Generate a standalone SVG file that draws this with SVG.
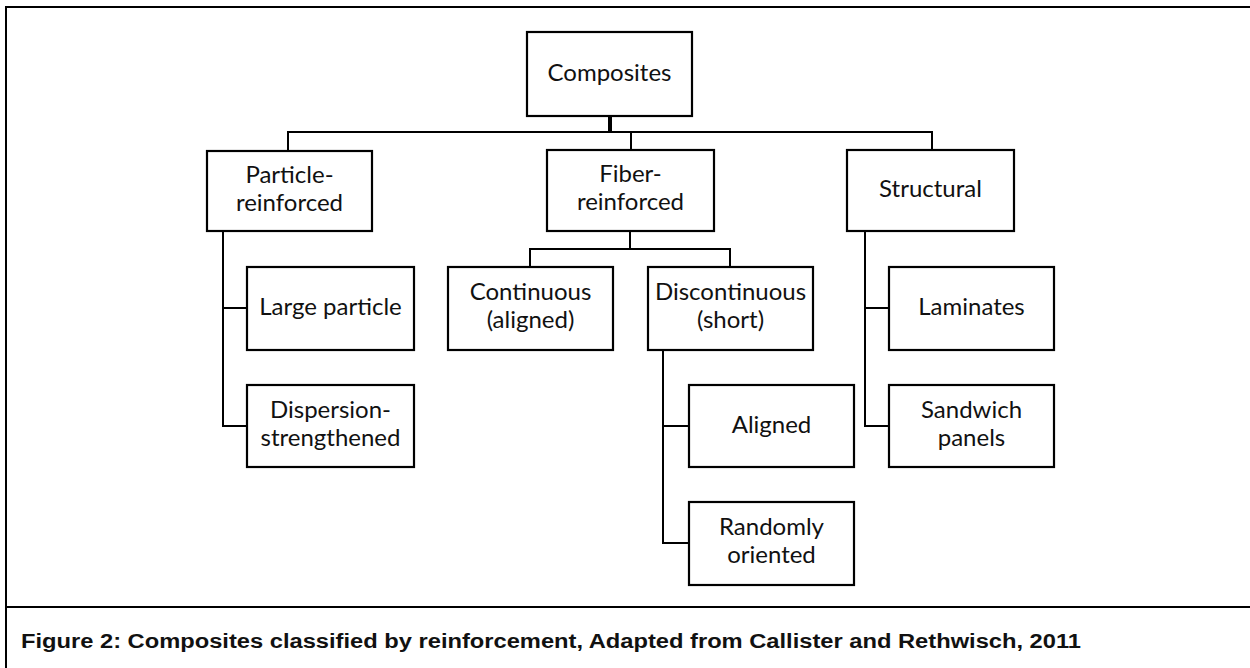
<svg xmlns="http://www.w3.org/2000/svg" width="1250" height="668" viewBox="0 0 1250 668">
<style>
.box{fill:#fff;stroke:#000;stroke-width:2.2}
.lbl{font-family:Lato,"Liberation Sans",sans-serif;font-size:24px;fill:#111;text-anchor:middle}
.con{fill:none;stroke:#000;stroke-width:2}
.cap{font-family:"Liberation Sans",Arial,sans-serif;font-size:20px;font-weight:bold;fill:#111}
</style>
<rect x="0" y="0" width="1250" height="668" fill="#fff"/>
<rect x="6" y="7" width="1260" height="690" fill="none" stroke="#000" stroke-width="2"/>
<line x1="6" y1="607" x2="1250" y2="607" stroke="#000" stroke-width="2"/>
<g id="connectors">
<line x1="610" y1="116" x2="610" y2="132" stroke="#000" stroke-width="4"/>
<path class="con" d="M288 151 V132 H932 V150"/>
<path class="con" d="M631 132 V150"/>
<path class="con" d="M223 231 V426 H247 M223 308 H247"/>
<path class="con" d="M630 231 V249 M530 267 V249 H730 V267"/>
<path class="con" d="M663 350 V543 H689 M663 426 H689"/>
<path class="con" d="M865 231 V426 H889 M865 308 H889"/>
</g>
<g id="composites"><rect class="box" x="527" y="32" width="165" height="84"/><text class="lbl" x="609.5" y="81">Composites</text></g>
<g id="particle"><rect class="box" x="207" y="151" width="165" height="80"/><text class="lbl" x="289.5" y="183">Particle-</text><text class="lbl" x="289.5" y="211">reinforced</text></g>
<g id="fiber"><rect class="box" x="547" y="150" width="167" height="81"/><text class="lbl" x="630.5" y="182">Fiber-</text><text class="lbl" x="630.5" y="210">reinforced</text></g>
<g id="structural"><rect class="box" x="847" y="150" width="167" height="81"/><text class="lbl" x="930.5" y="197">Structural</text></g>
<g id="large-particle"><rect class="box" x="247" y="267" width="167" height="83"/><text class="lbl" x="330.5" y="315">Large particle</text></g>
<g id="dispersion"><rect class="box" x="247" y="385" width="167" height="82"/><text class="lbl" x="330.5" y="418">Dispersion-</text><text class="lbl" x="330.5" y="446">strengthened</text></g>
<g id="continuous"><rect class="box" x="448" y="267" width="165" height="83"/><text class="lbl" x="530.5" y="300">Continuous</text><text class="lbl" x="530.5" y="328">(aligned)</text></g>
<g id="discontinuous"><rect class="box" x="648" y="267" width="165" height="83"/><text class="lbl" x="730.5" y="300">Discontinuous</text><text class="lbl" x="730.5" y="328">(short)</text></g>
<g id="laminates"><rect class="box" x="889" y="267" width="165" height="83"/><text class="lbl" x="971.5" y="315">Laminates</text></g>
<g id="aligned"><rect class="box" x="689" y="385" width="165" height="82"/><text class="lbl" x="771.5" y="433">Aligned</text></g>
<g id="sandwich"><rect class="box" x="889" y="385" width="165" height="82"/><text class="lbl" x="971.5" y="418">Sandwich</text><text class="lbl" x="971.5" y="446">panels</text></g>
<g id="randomly"><rect class="box" x="689" y="502" width="165" height="83"/><text class="lbl" x="771.5" y="535">Randomly</text><text class="lbl" x="771.5" y="563">oriented</text></g>
<text class="cap" x="21" y="648" textLength="1060" lengthAdjust="spacingAndGlyphs">Figure 2: Composites classified by reinforcement, Adapted from Callister and Rethwisch, 2011</text>
</svg>
